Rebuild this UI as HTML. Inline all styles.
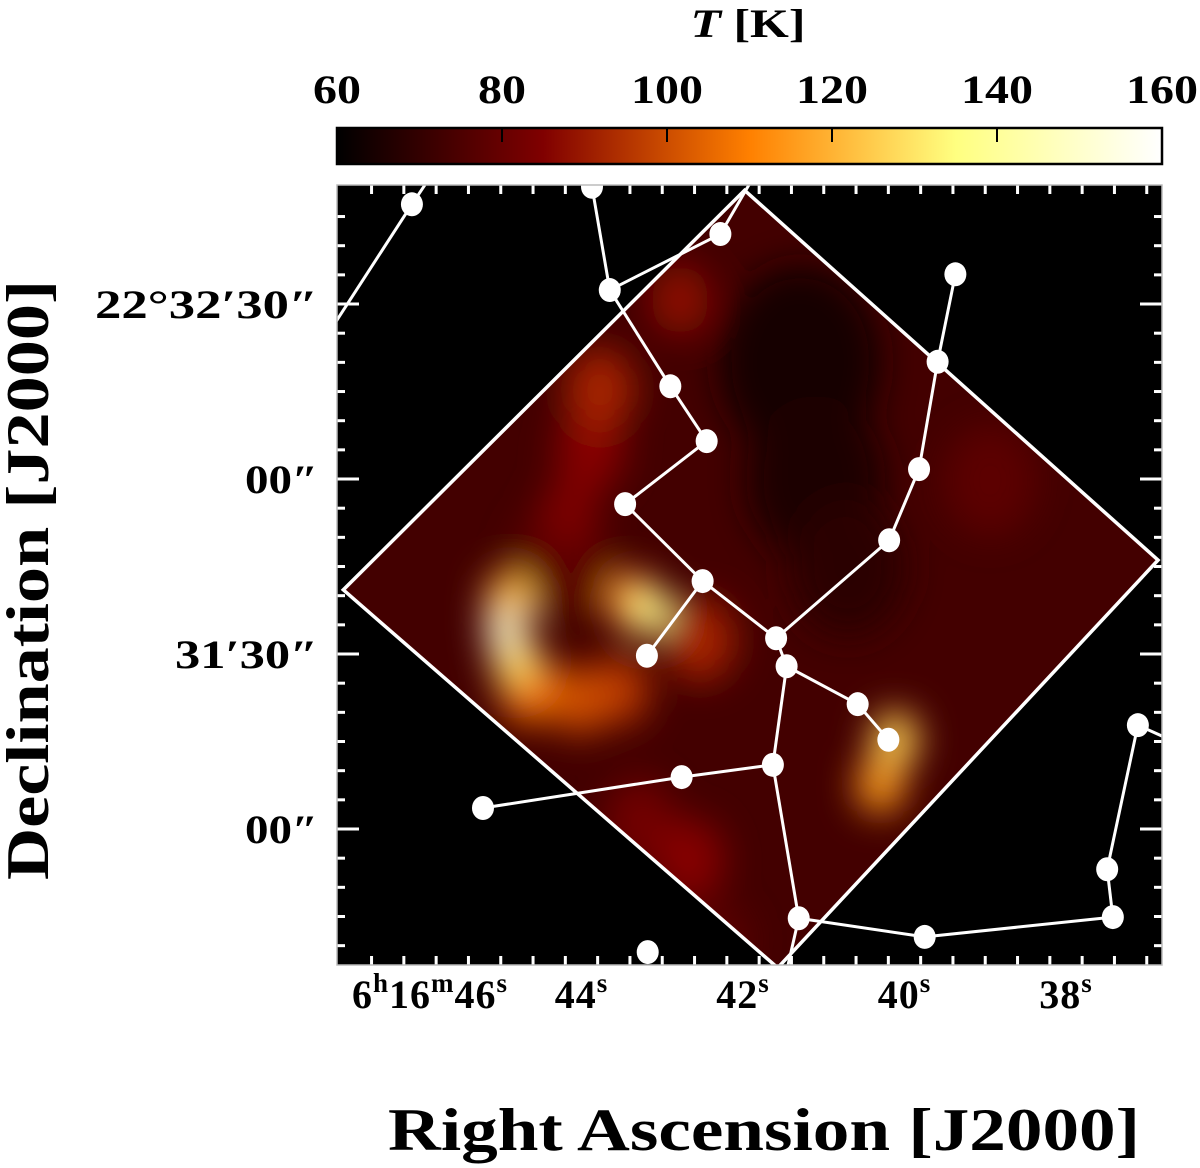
<!DOCTYPE html>
<html><head><meta charset="utf-8">
<style>
html,body{margin:0;padding:0;background:#fff;}
svg{display:block;font-family:"Liberation Serif",serif;font-weight:bold;}
</style></head>
<body>
<svg id="chart" width="1200" height="1168" viewBox="0 0 1200 1168" xmlns="http://www.w3.org/2000/svg">
<defs>
  <linearGradient id="cmap" x1="0" x2="1" y1="0" y2="0">
    <stop offset="0" stop-color="#000000"/>
    <stop offset="0.25" stop-color="#800000"/>
    <stop offset="0.5" stop-color="#ff8000"/>
    <stop offset="0.75" stop-color="#ffff80"/>
    <stop offset="1" stop-color="#ffffff"/>
  </linearGradient>
  <clipPath id="plotclip"><rect x="337" y="185" width="825" height="780"/></clipPath>
  <clipPath id="diamclip"><polygon id="diamclipPoly" points=""/></clipPath>
  <filter id="blur" x="-50%" y="-50%" width="200%" height="200%"><feGaussianBlur stdDeviation="18"/></filter>
</defs>
<text x="748" y="37" font-size="40" text-anchor="middle" textLength="115" lengthAdjust="spacingAndGlyphs"><tspan font-style="italic">T</tspan> [K]</text>
<g id="cbar"></g>
<rect x="337" y="185" width="825" height="780" fill="#000"/>
<g clip-path="url(#plotclip)">
  <g id="heat" clip-path="url(#diamclip)"></g>
  <polygon id="diamond" fill="none" stroke="#fff" stroke-width="3.5"/>
  <g id="tree"></g>
</g>
<g id="ticks"></g>
<rect x="337" y="185" width="825" height="780" fill="none" stroke="#bbb" stroke-width="1.5"/>
<g id="labels"></g>
<text transform="translate(48,580) rotate(-90)" font-size="60" text-anchor="middle" textLength="600" lengthAdjust="spacingAndGlyphs">Declination [J2000]</text>
<text x="764" y="1150" font-size="60" text-anchor="middle" textLength="752" lengthAdjust="spacingAndGlyphs">Right Ascension [J2000]</text>
</svg>
<script>
// ---- data ----
const cbarTicks = [60, 80, 100, 120, 140, 160];
const raMajor = [46, 44, 42, 40, 38];
const raLabels = ["46", "44", "42", "40", "38"];
const decMajor = [90, 60, 30, 0];
const decLabels = ["22°32′30″", "00″", "31′30″", "00″"];
// diamond coverage (RA seconds, Dec arcsec offset from 22:31:00)
const diamondRA = [41.98, 36.86, 41.57, 46.95];
const diamondDec = [109.5, 46.1, -23.8, 41.0];
// tree nodes
const nodeNames = ["A","B","C","D","E","F","G","H","I","J","K","L","M","N","O","P","Q","R","S","T","U","V","W","X","Y","Z"];
const nodeRA  = [46.10,43.87,43.65,42.28,42.90,42.45,43.46,42.50,41.59,41.46,40.58,40.20,43.19,40.19,39.82,39.59,39.37,41.63,42.76,45.22,41.31,39.75,37.42,37.49,37.11,43.18];
const nodeDec = [107.1,110.1,92.4,102.0,75.9,66.5,55.7,42.5,32.7,27.9,21.4,15.3,29.7,49.5,61.7,80.1,95.1,11.0,8.9,3.6,-15.3,-18.5,-15.1,-6.9,17.8,-21.1];
const edgeFrom = ["B","C","C","E","F","G","H","I","J","K","H","I","N","O","P","J","R","S","R","U","V","W","X"];
const edgeTo   = ["C","D","E","F","G","H","I","J","K","L","M","N","O","P","Q","R","S","T","U","V","W","X","Y"];
// line stubs leaving the field
const stubFrom = ["A","A","D","U","Y"];
const stubRA   = [45.94,47.11,41.89,41.47,36.71];
const stubDec  = [110.4,85.5,111.3,-25.0,15.3];
// temperature blobs
const blobRA  = [41.29,41.10,40.70,38.94,44.27,43.28,42.28,42.66,44.14,42.78,43.89,43.77,42.53,43.52,44.02,44.64,40.30,40.12,43.40,43.15,44.89,44.82,44.95];
const blobDec = [80.0,60.0,45.0,59.8,46.1,1.5,-19.0,-5.3,54.7,90.7,65.0,75.3,32.4,23.8,22.1,23.8,7.5,15.3,39.3,37.5,39.3,29.0,34.1];
const blobT   = [64,66,68,78,78,82,78,86,84,88,86,92,92,96,100,106,116,126,115,138,122,128,152];
const blobR   = [14,12,10,8,8,6,5,6,5,5,6,6,6,5,5,5,4,4,4,3.5,4,4,3.2];
const bgT = 73;

// ---- axes ----
const xRA = s => 420 + (46 - s) * 80.75;
const yDec = a => 829 - a * 5.833;
const xT = t => 337 + (t - 60) / 100 * 825;
const NS = "http://www.w3.org/2000/svg";
function mk(tag, attrs, parent){const e=document.createElementNS(NS,tag);for(const k in attrs)e.setAttribute(k,attrs[k]);parent.appendChild(e);return e;}
function cmap(t){
  const stops=[[60,[0,0,0]],[85,[128,0,0]],[110,[255,128,0]],[135,[255,255,128]],[160,[255,255,255]]];
  t=Math.max(60,Math.min(160,t));
  for(let i=0;i<stops.length-1;i++){const [a,ca]=stops[i],[b,cb]=stops[i+1];
    if(t<=b){const f=(t-a)/(b-a);return "rgb("+ca.map((c,j)=>Math.round(c+(cb[j]-c)*f)).join(",")+")";}}
  return "#fff";
}

// colorbar
const cb=document.getElementById('cbar');
let r=mk('rect',{x:337,y:128,width:825,height:36,fill:'url(#cmap)',stroke:'#000','stroke-width':2.5},cb);


cbarTicks.forEach(t=>{
  const s=String(t);
  const tl=mk('text',{x:xT(t)-(s.length*24)/2,y:103,'font-size':40,textLength:s.length*24,lengthAdjust:'spacingAndGlyphs'},cb);
  tl.textContent=s;
  
  
  if(t>60&&t<160){const l=mk('line',{x1:xT(t),x2:xT(t),y1:129,y2:142,stroke:'#000','stroke-width':2},cb);
    
    }
});

// diamond
const dpts=diamondRA.map((s,i)=>xRA(s)+","+yDec(diamondDec[i])).join(" ");
document.getElementById('diamclipPoly').setAttribute('points',dpts);
document.getElementById('diamond').setAttribute('points',dpts);

// heatmap
const heat=document.getElementById('heat');
const bg=mk('rect',{x:337,y:185,width:825,height:780,fill:cmap(bgT)},heat);


const hb=mk('g',{filter:'url(#blur)'},heat);
blobRA.forEach((s,i)=>{
  const c=mk('ellipse',{cx:xRA(s),cy:yDec(blobDec[i]),rx:blobR[i]*5.8,ry:blobR[i]*5.8*1.2,fill:cmap(blobT[i])},hb);
  
  
});

// tree
const tree=document.getElementById('tree');
const idx=n=>nodeNames.indexOf(n);
edgeFrom.forEach((f,i)=>{
  const a=idx(f), b=idx(edgeTo[i]);
  const l=mk('line',{x1:xRA(nodeRA[a]),y1:yDec(nodeDec[a]),x2:xRA(nodeRA[b]),y2:yDec(nodeDec[b]),stroke:'#fff','stroke-width':3},tree);
  
  
});
stubFrom.forEach((f,i)=>{
  const a=idx(f);
  const l=mk('line',{x1:xRA(nodeRA[a]),y1:yDec(nodeDec[a]),x2:xRA(stubRA[i]),y2:yDec(stubDec[i]),stroke:'#fff','stroke-width':3},tree);
  
  
});
nodeRA.forEach((s,i)=>{
  const c=mk('ellipse',{cx:xRA(s),cy:yDec(nodeDec[i]),rx:11,ry:12,fill:'#fff'},tree);
  
  
});

// ticks
const tk=document.getElementById('ticks');
function tick(x1,y1,x2,y2){const l=mk('line',{x1,y1,x2,y2,stroke:'#fff','stroke-width':3},tk);
  
  }
for(let s=47;s>=36.8;s-=0.4){const x=xRA(s);if(x<340||x>1159)continue;
  const maj=Math.abs(s-Math.round(s))<0.01&&Math.round(s)%2===0;const L=maj?22:9;
  tick(x,185,x,185+L);tick(x,965,x,965-L);}
for(let a=-30;a<=115;a+=5){const y=yDec(a);if(y<188||y>962)continue;
  const maj=a%30===0;const L=maj?22:8;
  tick(337,y,337+L,y);tick(1162,y,1162-L,y);}

// labels
const lb=document.getElementById('labels');
const decLen=[223,73,143,73];
decMajor.forEach((a,i)=>{
  const t=mk('text',{x:318-decLen[i],y:yDec(a)+14,'font-size':40,textLength:decLen[i],lengthAdjust:'spacingAndGlyphs'},lb);
  t.textContent=decLabels[i];
  
  
});
raMajor.forEach((s,i)=>{
  const t=mk('text',{x:i===0?xRA(s)+10:xRA(s),y:1008,'font-size':40,'text-anchor':'middle','letter-spacing':1},lb);
  if(i===0){t.innerHTML='6<tspan dy="-16" font-size="27">h</tspan><tspan dy="16">16</tspan><tspan dy="-16" font-size="27">m</tspan><tspan dy="16">'+raLabels[i]+'</tspan><tspan dy="-16" font-size="27">s</tspan>';}
  else{t.innerHTML=raLabels[i]+'<tspan dy="-16" font-size="27">s</tspan>';}
  
  
});
</script>
</body></html>
